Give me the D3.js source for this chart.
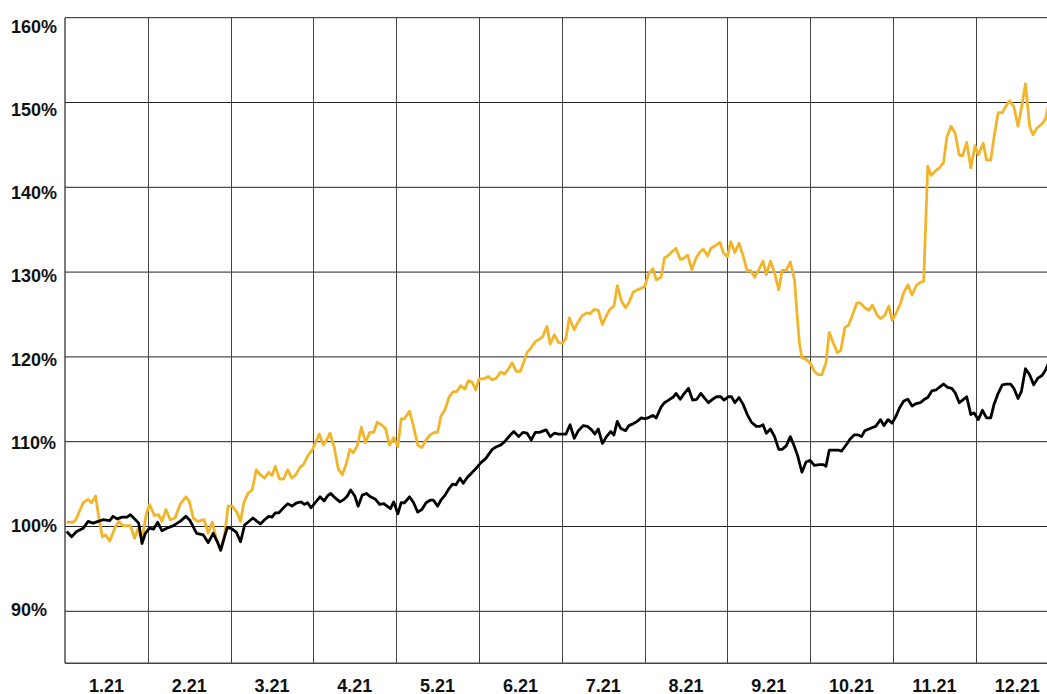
<!DOCTYPE html>
<html>
<head>
<meta charset="utf-8">
<script src="https://cdn.jsdelivr.net/npm/d3@7"></script>
<style>
  html, body { margin: 0; padding: 0; background: #fff; }
  #chart svg { display: block; }
</style>
</head>
<body>
<div id="chart"></div>
<script>
// month labels (equal-width bands) and y tick values
const months = ['1.21', '2.21', '3.21', '4.21', '5.21', '6.21', '7.21', '8.21', '9.21', '10.21', '11.21', '12.21'];
const yTicks = [90, 100, 110, 120, 130, 140, 150, 160];

// [months since 1 Jan, % of start value]
const goldSeries = [[0.02,100.5],[0.10,100.5],[0.13,100.8],[0.22,102.8],[0.28,103.2],[0.32,102.8],[0.37,103.6],[0.40,101.6],[0.45,98.8],[0.49,99.0],[0.54,98.3],[0.61,100.0],[0.65,100.6],[0.70,100.1],[0.79,100.1],[0.84,98.6],[0.88,99.7],[0.93,98.4],[0.98,101.4],[1.02,102.6],[1.08,101.3],[1.13,101.4],[1.17,100.6],[1.22,102.0],[1.27,100.8],[1.33,101.0],[1.39,102.6],[1.46,103.5],[1.50,103.0],[1.55,101.0],[1.60,100.6],[1.68,100.8],[1.73,99.2],[1.78,100.5],[1.82,98.8],[1.88,97.2],[1.93,99.2],[1.97,102.4],[2.02,102.4],[2.08,101.6],[2.12,100.6],[2.16,102.8],[2.21,103.9],[2.26,104.3],[2.31,106.7],[2.36,106.1],[2.41,105.7],[2.46,106.4],[2.50,106.0],[2.54,107.1],[2.59,105.6],[2.64,105.6],[2.69,106.7],[2.74,105.7],[2.78,106.0],[2.84,107.0],[2.88,107.3],[2.93,108.3],[2.99,109.1],[3.03,110.0],[3.07,110.9],[3.12,109.6],[3.16,110.2],[3.20,111.0],[3.25,109.4],[3.30,106.8],[3.35,106.1],[3.40,107.5],[3.44,109.1],[3.48,108.7],[3.53,109.5],[3.58,111.7],[3.63,109.9],[3.68,111.1],[3.73,111.1],[3.77,112.3],[3.82,112.0],[3.87,111.6],[3.92,109.6],[3.97,110.5],[4.02,109.4],[4.06,112.7],[4.10,112.7],[4.16,113.6],[4.21,111.8],[4.26,109.6],[4.31,109.3],[4.36,110.2],[4.41,110.8],[4.46,111.1],[4.50,111.1],[4.54,113.0],[4.59,113.8],[4.64,115.3],[4.69,115.9],[4.73,115.9],[4.78,116.6],[4.83,116.2],[4.87,117.2],[4.92,117.0],[4.96,116.1],[5.00,117.4],[5.06,117.4],[5.11,117.7],[5.16,117.3],[5.21,117.5],[5.26,118.2],[5.31,118.0],[5.35,118.5],[5.40,119.3],[5.45,118.3],[5.50,118.3],[5.53,119.1],[5.58,120.5],[5.63,121.1],[5.68,121.8],[5.73,122.1],[5.77,122.4],[5.82,123.6],[5.86,121.5],[5.91,122.6],[5.96,121.7],[6.01,121.6],[6.05,122.2],[6.09,124.6],[6.15,123.2],[6.19,124.0],[6.24,124.8],[6.30,125.2],[6.34,125.1],[6.39,125.6],[6.44,125.5],[6.49,123.8],[6.53,124.7],[6.58,125.6],[6.63,126.0],[6.67,128.4],[6.72,126.6],[6.77,125.8],[6.81,126.4],[6.86,127.6],[6.91,127.9],[6.96,128.1],[7.00,128.3],[7.05,129.8],[7.10,130.4],[7.14,129.1],[7.20,129.4],[7.24,131.7],[7.28,131.9],[7.33,132.4],[7.38,132.8],[7.43,131.5],[7.47,131.6],[7.52,132.0],[7.57,130.3],[7.62,131.6],[7.67,132.4],[7.71,132.7],[7.76,131.9],[7.80,132.8],[7.85,133.1],[7.91,133.5],[7.95,132.3],[8.00,131.8],[8.04,133.6],[8.09,132.3],[8.14,133.4],[8.19,131.9],[8.24,130.1],[8.28,130.2],[8.33,129.4],[8.38,130.3],[8.43,131.3],[8.47,129.7],[8.52,131.3],[8.57,129.9],[8.62,127.9],[8.66,130.2],[8.71,130.2],[8.76,131.2],[8.81,129.1],[8.84,125.2],[8.87,121.6],[8.90,119.9],[8.95,119.7],[9.00,119.3],[9.05,118.3],[9.10,117.9],[9.14,117.9],[9.19,119.3],[9.23,122.9],[9.28,121.6],[9.33,120.5],[9.37,120.8],[9.42,123.5],[9.46,123.7],[9.51,124.9],[9.56,126.3],[9.60,126.4],[9.66,125.8],[9.71,125.5],[9.75,126.1],[9.81,124.9],[9.85,124.5],[9.90,124.9],[9.95,126.0],[9.99,124.3],[10.04,125.2],[10.09,126.3],[10.13,127.6],[10.18,128.5],[10.23,127.3],[10.28,128.4],[10.33,128.8],[10.37,128.9],[10.42,142.5],[10.46,141.4],[10.51,141.9],[10.56,142.3],[10.61,142.9],[10.65,145.9],[10.70,147.2],[10.75,146.4],[10.80,143.8],[10.84,143.7],[10.89,145.3],[10.94,142.3],[10.99,144.9],[11.03,143.8],[11.09,145.2],[11.13,143.2],[11.18,143.2],[11.22,145.9],[11.27,148.8],[11.32,148.8],[11.37,149.7],[11.41,150.2],[11.46,149.5],[11.51,147.2],[11.55,149.3],[11.60,152.2],[11.65,147.2],[11.69,146.2],[11.74,147.0],[11.80,147.5],[11.84,148.0],[11.89,150.2]];

const blackSeries = [[0.02,99.4],[0.08,98.8],[0.14,99.4],[0.22,99.8],[0.28,100.6],[0.34,100.4],[0.40,100.6],[0.46,100.8],[0.54,100.7],[0.58,101.2],[0.63,100.9],[0.69,101.1],[0.75,101.1],[0.79,101.4],[0.85,100.8],[0.89,100.4],[0.93,98.0],[0.97,99.2],[1.02,99.8],[1.07,99.7],[1.12,100.5],[1.17,99.5],[1.23,99.8],[1.31,100.1],[1.39,100.6],[1.46,101.2],[1.51,100.7],[1.59,99.2],[1.67,99.0],[1.73,98.1],[1.79,99.2],[1.84,98.2],[1.88,97.2],[1.96,99.9],[2.02,99.7],[2.07,99.3],[2.12,98.2],[2.17,100.2],[2.21,100.5],[2.27,101.0],[2.32,100.6],[2.36,100.3],[2.41,100.8],[2.46,101.2],[2.50,101.1],[2.54,101.6],[2.58,101.6],[2.64,102.2],[2.69,102.7],[2.74,102.4],[2.80,102.8],[2.85,102.9],[2.89,102.6],[2.93,102.8],[2.97,102.2],[3.03,102.9],[3.08,103.5],[3.13,103.0],[3.17,103.6],[3.21,103.9],[3.26,103.4],[3.32,102.9],[3.37,103.2],[3.41,103.6],[3.45,104.3],[3.50,103.6],[3.54,102.4],[3.59,103.7],[3.64,103.9],[3.69,103.5],[3.75,103.2],[3.80,102.6],[3.85,102.7],[3.89,102.4],[3.93,102.1],[3.97,102.9],[4.02,101.5],[4.06,102.8],[4.10,102.8],[4.16,103.5],[4.21,102.8],[4.26,101.7],[4.31,102.0],[4.36,102.8],[4.41,103.1],[4.45,103.1],[4.50,102.4],[4.54,103.1],[4.59,103.7],[4.64,104.5],[4.68,105.0],[4.72,104.9],[4.77,105.7],[4.81,105.1],[4.86,105.8],[4.90,106.2],[4.96,106.8],[5.02,107.5],[5.08,108.0],[5.16,109.1],[5.21,109.4],[5.26,109.6],[5.31,110.0],[5.37,110.7],[5.42,111.2],[5.48,110.6],[5.53,111.1],[5.58,111.0],[5.63,110.2],[5.68,111.1],[5.73,111.1],[5.81,111.4],[5.86,110.6],[5.91,111.0],[5.96,110.9],[6.01,110.9],[6.05,110.9],[6.10,112.0],[6.15,110.4],[6.20,111.3],[6.26,111.9],[6.31,111.8],[6.36,111.4],[6.40,110.9],[6.44,111.5],[6.49,109.8],[6.54,110.6],[6.59,111.2],[6.63,110.8],[6.67,112.4],[6.71,111.6],[6.77,111.3],[6.81,111.9],[6.86,112.1],[6.91,112.4],[6.96,112.8],[7.01,112.7],[7.06,112.9],[7.10,113.1],[7.14,112.8],[7.20,114.1],[7.24,114.6],[7.29,114.9],[7.35,115.3],[7.38,115.7],[7.43,115.0],[7.48,115.7],[7.53,116.3],[7.58,114.9],[7.63,115.0],[7.68,115.7],[7.72,115.2],[7.77,114.6],[7.82,115.0],[7.87,115.3],[7.92,115.3],[7.96,114.9],[8.01,115.3],[8.05,115.3],[8.09,114.6],[8.14,115.2],[8.19,114.4],[8.24,113.2],[8.29,112.3],[8.35,111.8],[8.39,111.8],[8.43,112.0],[8.47,111.0],[8.52,111.5],[8.57,110.6],[8.62,109.1],[8.66,109.1],[8.71,109.5],[8.76,110.6],[8.81,109.4],[8.85,108.3],[8.90,106.4],[8.95,107.6],[9.00,107.8],[9.05,107.2],[9.11,107.3],[9.16,107.3],[9.19,107.1],[9.23,109.0],[9.29,109.0],[9.34,109.0],[9.38,108.9],[9.44,109.7],[9.48,110.3],[9.53,110.8],[9.58,110.8],[9.62,110.6],[9.66,111.3],[9.71,111.5],[9.76,111.7],[9.79,111.8],[9.85,112.6],[9.89,111.9],[9.94,112.6],[9.99,112.2],[10.03,112.9],[10.08,114.0],[10.13,114.8],[10.18,115.0],[10.23,114.2],[10.28,114.5],[10.33,114.6],[10.38,115.0],[10.42,115.2],[10.47,116.0],[10.52,116.1],[10.57,116.5],[10.61,116.8],[10.66,116.4],[10.71,116.3],[10.75,115.8],[10.80,114.6],[10.84,114.9],[10.89,115.3],[10.94,113.2],[10.98,113.4],[11.03,112.6],[11.08,113.7],[11.13,112.8],[11.18,112.8],[11.22,114.4],[11.27,115.7],[11.32,116.7],[11.37,116.8],[11.42,116.8],[11.46,116.3],[11.51,115.1],[11.55,115.9],[11.60,118.6],[11.65,117.9],[11.70,116.7],[11.75,117.5],[11.80,117.8],[11.84,118.4],[11.89,119.5]];

document.addEventListener('DOMContentLoaded', () => {
    const width = 1047;
    const height = 694;
    const left = 65;
    const top = 17.7;
    const bottom = 663.3;
    const monthW = 82.8;
    const font = '"Liberation Sans", Arial, sans-serif';

    const xScale = d3.scaleLinear()
        .domain([0, months.length])
        .range([left, left + monthW * months.length]);

    const yScale = d3.scaleLinear()
        .domain([90, 160])
        .range([611.3, top]);

    // labels sit on a slightly tighter spacing than the grid in the original
    const labelScale = d3.scaleLinear()
        .domain([90, 160])
        .range([609.2, 26.3]);

    const svg = d3.select('#chart')
        .append('svg')
        .attr('width', width)
        .attr('height', height);

    // horizontal grid
    svg.append('g')
        .selectAll('line')
        .data(yTicks)
        .join('line')
        .attr('x1', left)
        .attr('x2', width)
        .attr('y1', d => yScale(d))
        .attr('y2', d => yScale(d))
        .attr('stroke', '#222')
        .attr('stroke-width', 1);

    // vertical month grid
    svg.append('g')
        .selectAll('line')
        .data(d3.range(1, months.length))
        .join('line')
        .attr('x1', d => Math.round(xScale(d)) + 0.5)
        .attr('x2', d => Math.round(xScale(d)) + 0.5)
        .attr('y1', top)
        .attr('y2', bottom)
        .attr('stroke', '#444')
        .attr('stroke-width', 1);

    // axes frame
    svg.append('line')
        .attr('x1', left).attr('x2', left)
        .attr('y1', top).attr('y2', bottom)
        .attr('stroke', '#333').attr('stroke-width', 1.3);
    svg.append('line')
        .attr('x1', left).attr('x2', width)
        .attr('y1', bottom).attr('y2', bottom)
        .attr('stroke', '#444').attr('stroke-width', 1.5);

    // y labels
    svg.append('g')
        .selectAll('text')
        .data(yTicks)
        .join('text')
        .attr('x', 11)
        .attr('y', d => labelScale(d))
        .attr('dy', '0.35em')
        .attr('font-family', font)
        .attr('font-weight', 'bold')
        .attr('font-size', 18)
        .attr('fill', '#111')
        .text(d => d + '%');

    // month labels
    svg.append('g')
        .selectAll('text')
        .data(months)
        .join('text')
        .attr('x', (d, i) => xScale(i + 0.5))
        .attr('y', 691.5)
        .attr('text-anchor', 'middle')
        .attr('font-family', font)
        .attr('font-weight', 'bold')
        .attr('font-size', 18)
        .attr('fill', '#111')
        .text(d => d);

    const plotLine = d3.line()
        .x(d => xScale(d[0]))
        .y(d => yScale(d[1]));

    svg.append('path')
        .datum(goldSeries)
        .attr('fill', 'none')
        .attr('stroke', '#F2B52A')
        .attr('stroke-width', 2.8)
        .attr('stroke-linejoin', 'round')
        .attr('d', plotLine);

    svg.append('path')
        .datum(blackSeries)
        .attr('fill', 'none')
        .attr('stroke', '#000')
        .attr('stroke-width', 2.8)
        .attr('stroke-linejoin', 'round')
        .attr('d', plotLine);
}, false);
</script>
</body>
</html>
